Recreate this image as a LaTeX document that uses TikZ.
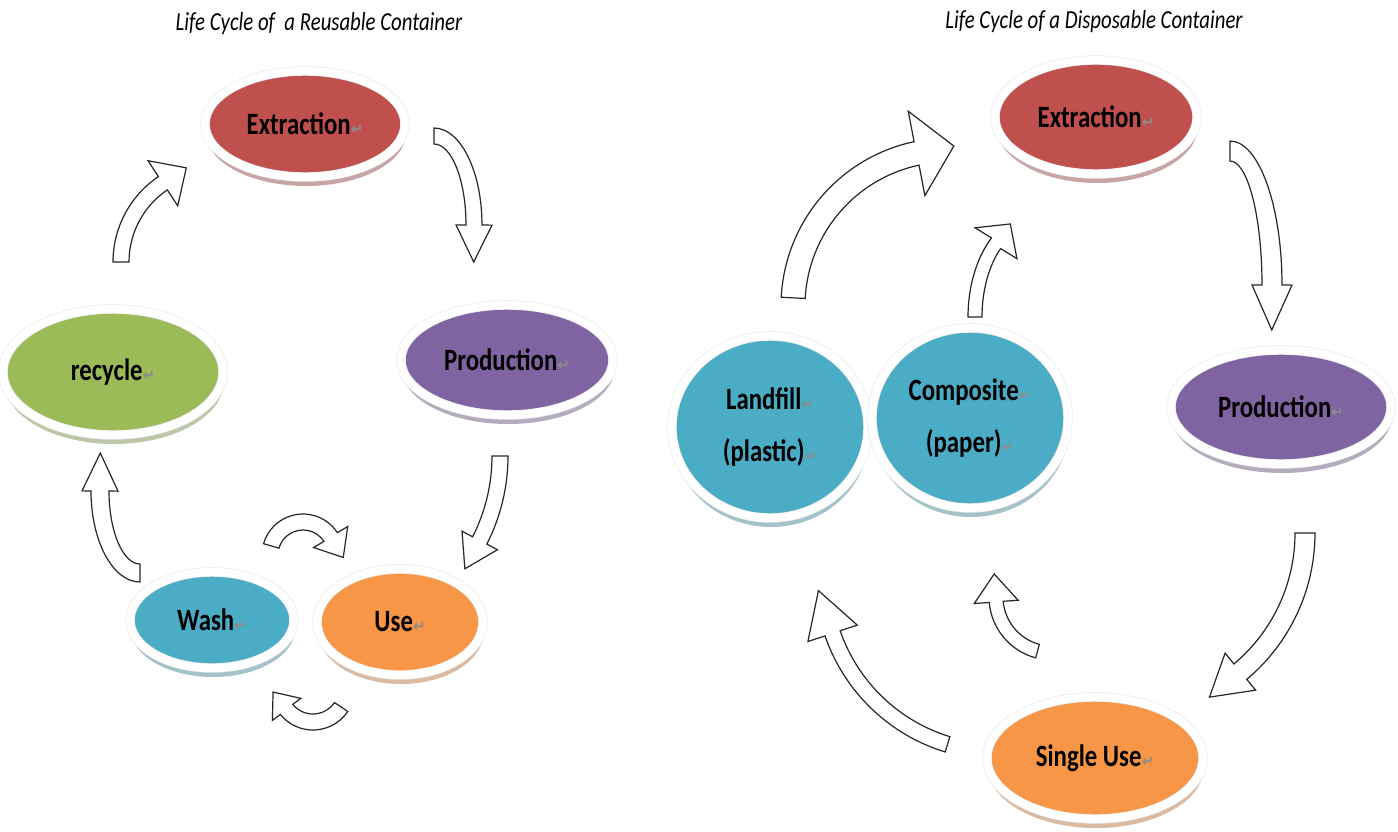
\documentclass[tikz,border=0pt]{standalone}
\usepackage{fontspec}
\setmainfont{Carlito}
\newfontfamily\stagefont[FakeStretch=0.8]{Carlito}
\newfontfamily\markfont{DejaVu Sans}
\usetikzlibrary{shapes.geometric, shadows, calc}
\definecolor{extred}{HTML}{C0504D}
\definecolor{prodpurple}{HTML}{8064A2}
\definecolor{recgreen}{HTML}{9BBB59}
\definecolor{washblue}{HTML}{4BACC6}
\definecolor{useorange}{HTML}{F79646}
\newcommand{\pmark}{{\markfont\fontsize{15}{15}\selectfont\textcolor{black!45}{↵}}}
% curved block arrow: centre, x radius, y radius, tail angle, head angle,
% head length, half shaft width, half head width
\newcommand{\bentarrow}[8]{%
  \pgfmathsetmacro\arrout{((#5>#4)*2-1)*90}%
  \pgfmathsetmacro\arrin{((#5>#4)*2-1)*(-90)}%
  \coordinate (ac) at (#1);
  \coordinate (ab) at ($(ac)+(#5:#2 and #3)$);
  \coordinate (an) at ($(ac)+({#5+(#5-#4)/50}:#2 and #3)$);
  \coordinate (at) at ($(ab)!#6pt!(an)$);
  \draw[bigarrow] ($(ac)+(#4:{#2+#7} and {#3+#7})$)
    arc[start angle=#4, end angle=#5, x radius=#2+#7, y radius=#3+#7]
    -- ($(ab)!#8pt!\arrout:(an)$) -- (at) -- ($(ab)!#8pt!\arrin:(an)$)
    -- ($(ac)+(#5:{#2-#7} and {#3-#7})$)
    arc[start angle=#5, end angle=#4, x radius=#2-#7, y radius=#3-#7]
    -- cycle;
}

\begin{document}
\begin{tikzpicture}[x=1pt, y=-1pt,
  stage/.style={ellipse, draw=black!8, line width=0.7pt, double=white,
    double distance=8pt, inner sep=0pt, align=center,
    font={\stagefont\bfseries\fontsize{31}{52}\selectfont}},
  colored/.style={fill=#1, drop shadow={shadow xshift=1pt, shadow yshift=-9pt,
    fill=#1!70!black, opacity=0.45}},
  title/.style={font={\stagefont\itshape\fontsize{26}{30}\selectfont}},
  bigarrow/.style={draw=black!85, fill=white, line width=1.2pt, line join=miter}]
  \fill[white] (0,0) rectangle (1398,831);
  \useasboundingbox (0,0) rectangle (1398,831);

  % reusable container
  \node[title] (title-l) at (319,24) {Life Cycle of~ a Reusable Container};
  \node[stage, colored=extred, minimum width=200pt, minimum height=106pt] (ext-l) at (305,124) {Extraction\pmark};
  \node[stage, colored=prodpurple, minimum width=212pt, minimum height=110pt] (prod-l) at (507,360) {Production\pmark};
  \node[stage, colored=recgreen, minimum width=220pt, minimum height=126pt] (recycle) at (113,372) {recycle\pmark};
  \node[stage, colored=washblue, minimum width=164pt, minimum height=96pt] (wash) at (212,620) {Wash\pmark};
  \node[stage, colored=useorange, minimum width=166pt, minimum height=106pt] (use-l) at (400,622) {Use\pmark};

  \bentarrow{216,262}{95}{95}{180}{236}{28}{8}{27}
  \bentarrow{434,225}{40}{89}{-90}{0}{37}{8}{18}
  \bentarrow{314,456}{186}{186}{0}{27}{32}{8}{20}
  \bentarrow{303,555}{33}{33}{196}{327}{24}{8}{20}
  \bentarrow{313,688}{34}{34}{34}{141}{22}{8}{18}
  \bentarrow{140,491}{40}{82}{90}{180}{38}{9}{18}

  % disposable container
  \node[title] (title-r) at (1094,22) {Life Cycle of a Disposable Container};
  \node[stage, colored=extred, minimum width=202pt, minimum height=114pt] (ext-r) at (1096,117) {Extraction\pmark};
  \node[stage, colored=prodpurple, minimum width=220pt, minimum height=114pt] (prod-r) at (1281,407) {Production\pmark};
  \node[stage, colored=washblue, minimum width=196pt, minimum height=182pt] (landfill) at (770,427) {Landfill\pmark\\(plastic)\pmark};
  \node[stage, colored=washblue, minimum width=196pt, minimum height=180pt] (composite) at (970,418) {Composite\pmark\\(paper)\pmark};
  \node[stage, colored=useorange, minimum width=216pt, minimum height=122pt] (single) at (1095,758) {Single Use\pmark};

  \bentarrow{949,306}{156}{156}{183}{258}{38}{12}{43}
  \bentarrow{1035,317}{60}{97}{180}{229.5}{24}{7}{26}
  \bentarrow{1230,285}{42}{134}{-90}{0}{45}{10}{20}
  \bentarrow{1124,533}{181}{181}{0}{50}{40}{10}{24}
  \bentarrow{999,576}{176}{176}{107}{161}{45}{8}{26}
  \bentarrow{1052,597}{56}{56}{105}{175}{28}{7}{22}
\end{tikzpicture}
\end{document}
